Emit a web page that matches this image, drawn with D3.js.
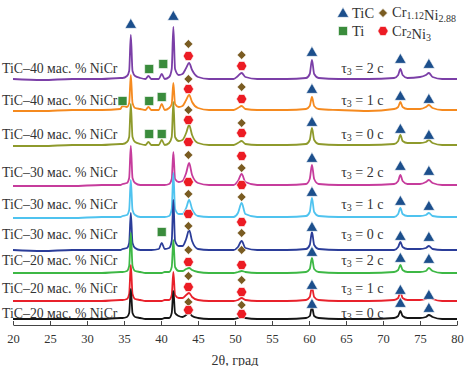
<!DOCTYPE html>
<html>
<head>
<meta charset="utf-8">
<script src="https://cdn.jsdelivr.net/npm/d3@7"></script>
<style>
body { margin: 0; background: #fff; }
svg text { font-family: "Liberation Serif", "DejaVu Serif", serif; fill: #333; }
</style>
</head>
<body>
<script>
// 2theta grid shared by every pattern (deg)
var angles = [20, 24, 28, 32, 34.5, 34.8, 35.4, 35.7, 35.92, 36.15, 36.5,
	37.2, 37.9, 38.3, 38.7, 39.7, 40.1, 40.5, 41.1, 41.45, 41.67, 41.9, 42.4,
	42.9, 43.4, 43.8, 44.2, 45.0, 46.5, 49.8, 50.4, 50.9, 51.4, 53.0, 57.0,
	59.6, 60.1, 60.4, 60.7, 61.3, 64, 68, 71.5, 72.05, 72.35, 72.65, 73.3,
	75.0, 75.8, 76.2, 76.7, 78, 80];

// intensities above each pattern's own baseline, top to bottom
var tic40_t2 = [1,0,1,1, 2,2,4,9,45,9,4, 2,1,4,1, 1,6,1, 3,11,53,11,5, 6,12,17,10,3, 1,1,4,7,3,1, 1,2,6,20,6,2, 1,1, 2,5,11,5,2, 3,5,7,3,1,1];
var tic40_t1 = [0,0,1,1, 2,5,4,8,36,8,3, 2,1,4,1, 1,7,1, 3,7,28,7,4, 5,11,16,9,3, 1,1,3,5,2,1, 1,2,5,14,5,2, 1,0, 2,4,9,4,2, 2,4,6,3,1,1];
var tic40_t0 = [0,0,1,1, 2,2,4,9,42,9,4, 2,1,4,1, 1,6,1, 3,9,44,9,5, 6,13,21,11,3, 1,1,3,5,2,1, 1,2,6,18,6,2, 1,1, 2,5,11,5,3, 3,4,6,3,1,1];
var tic30_t2 = [0,0,0,1, 1,2,3,8,40,8,3, 1,1,1,1, 1,1,1, 2,7,34,7,4, 5,13,23,11,3, 1,1,5,12,4,1, 1,2,7,21,7,2, 1,1, 2,5,11,5,2, 2,4,6,3,1,1];
var tic30_t1 = [0,0,0,1, 1,2,3,8,38,8,3, 1,1,1,1, 1,1,1, 2,9,45,9,4, 4,10,18,9,2, 1,1,5,15,4,1, 1,2,6,20,6,2, 1,1, 1,4,10,4,2, 2,3,5,2,1,1];
var tic30_t0 = [1,0,1,1, 1,2,3,8,38,8,3, 1,1,1,1, 2,8,2, 3,10,51,10,5, 5,12,21,10,2, 1,1,4,10,3,1, 1,2,6,19,6,2, 1,1, 1,4,9,4,2, 2,3,5,2,1,1];
var tic20_t2 = [0,0,0,0, 1,1,2,7,40,7,2, 1,0,0,0, 0,0,1, 1,6,33,6,2, 2,4,5,3,1, 0,0,1,2,1,0, 0,1,4,15,4,1, 0,0, 1,3,8,3,1, 1,2,5,2,0,0];
var tic20_t1 = [0,0,0,0, 1,1,2,7,36,7,2, 1,0,0,0, 0,0,1, 1,6,29,6,3, 3,6,8,4,1, 0,0,1,3,1,0, 0,1,4,14,4,1, 0,0, 1,3,9,3,1, 1,2,6,2,0,0];
var tic20_t0 = [0,0,0,0, 1,1,2,6,30,6,2, 1,0,0,0, 0,0,1, 1,6,28,6,3, 2,4,6,3,1, 0,0,1,2,1,0, 0,1,3,12,3,1, 0,0, 1,3,8,3,1, 1,2,4,2,0,0];

var offsets = [245, 214, 179, 139, 107, 74, 52, 24, 6];
var nicr = [40, 40, 40, 30, 30, 30, 20, 20, 20];
var tau = [2, 1, 0, 2, 1, 0, 2, 1, 0];

// phase marks: [phase, 2theta, level above baseline]
var mk40_t2 = [["TiC",35.92,55],["TiC",41.67,63],["Ti",38.4,11],["Ti",40.3,16],["Cr1",43.7,36],["Cr2",43.7,24],["Cr1",50.9,25],["Cr2",50.9,14],["TiC",60.4,27],["TiC",72.35,20],["TiC",76.2,15]];
var mk40_t1 = [["Ti",34.8,10],["Ti",38.4,10],["Ti",40.1,14],["Cr1",43.7,32],["Cr2",43.7,22],["Cr1",50.9,24],["Cr2",50.9,12],["TiC",60.4,21],["TiC",72.35,14],["TiC",76.2,11]];
var mk40_t0 = [["Ti",38.4,12],["Ti",40.1,12],["Cr1",43.7,36],["Cr2",43.7,26],["Cr1",50.9,23],["Cr2",50.9,13],["TiC",60.4,23],["TiC",72.35,16],["TiC",76.2,10]];
var mk30_t2 = [["Cr2",43.7,44],["Cr1",43.7,31],["Cr2",50.9,30],["Cr1",50.9,18],["TiC",60.4,27],["TiC",72.35,19],["TiC",76.2,14]];
var mk30_t1 = [["Cr2",43.7,36],["Cr1",43.7,24],["Cr2",50.9,33],["Cr1",50.9,21],["TiC",60.4,25],["TiC",72.35,16],["TiC",76.2,11]];
var mk30_t0 = [["Ti",40.1,19],["Cr2",43.7,37],["Cr1",43.7,25],["Cr2",50.9,29],["Cr1",50.9,18],["TiC",60.4,23],["TiC",72.35,14],["TiC",76.2,13]];
var mk20_t2 = [["Cr1",43.7,23],["Cr2",43.7,11],["Cr1",50.9,23],["Cr2",50.9,8],["TiC",60.4,20],["TiC",72.35,14],["TiC",76.2,13]];
var mk20_t1 = [["Cr1",43.7,25],["Cr2",43.7,14],["Cr1",50.9,21],["Cr2",50.9,9],["TiC",60.4,15],["TiC",72.35,10],["TiC",76.2,5]];
var mk20_t0 = [["Cr1",43.7,17],["Cr2",43.7,9],["Cr1",50.9,14],["Cr2",50.9,5],["TiC",60.4,14],["TiC",72.35,15],["TiC",76.2,10]];

var xTicks = [20, 25, 30, 35, 40, 45, 50, 55, 60, 65, 70, 75, 80];

var patterns = [tic40_t2, tic40_t1, tic40_t0, tic30_t2, tic30_t1, tic30_t0, tic20_t2, tic20_t1, tic20_t0];
var marks = [mk40_t2, mk40_t1, mk40_t0, mk30_t2, mk30_t1, mk30_t0, mk20_t2, mk20_t1, mk20_t0];

var colors = ["#7b3fa7", "#f58a1f", "#8e9a2c", "#c63c9c", "#4fc3ef", "#2b3d99", "#3db845", "#e8212b", "#151515"];
var labelDy = [12, 11, 12, 14, 14, 17, 13, 13, 6];

var width = 466, height = 366;
var svg = d3.select("body").append("svg")
	.attr("width", width).attr("height", height)
	.attr("font-family", "Liberation Serif, serif");

var x = d3.scaleLinear().domain([20, 80]).range([13, 457]);
var y = d3.scaleLinear().domain([0, 320]).range([325, 5]);

// axis
var axis = svg.append("g")
	.attr("transform", "translate(0," + y(0) + ")")
	.call(d3.axisBottom(x).tickValues(xTicks).tickSizeInner(-4).tickSizeOuter(0).tickPadding(9));
axis.attr("font-family", "Liberation Serif, serif");
axis.select(".domain").attr("stroke", "#444");
axis.selectAll(".tick line").attr("stroke", "#444");
axis.selectAll(".tick text")
	.style("font-size", "12.5px")
	.attr("fill", "#333");

svg.append("text")
	.attr("x", 235).attr("y", 360)
	.attr("text-anchor", "middle")
	.attr("dominant-baseline", "central")
	.style("font-size", "14px")
	.text("2θ, град");

// patterns, top one first so lower ones sit over it
patterns.forEach(function(vals, k) {
	var line = d3.line()
		.x(function(d, i) { return x(angles[i]); })
		.y(function(d) { return y(offsets[k] + d); })
		.curve(d3.curveMonotoneX);
	svg.append("path")
		.datum(vals)
		.attr("d", line)
		.attr("fill", "none")
		.attr("stroke", colors[k])
		.attr("stroke-width", 1.8)
		.attr("stroke-linejoin", "round");
});

// labels
patterns.forEach(function(vals, k) {
	var ly = y(offsets[k]) - labelDy[k];
	svg.append("text")
		.attr("x", 2).attr("y", ly)
		.attr("dominant-baseline", "central")
		.style("font-size", "13.8px")
		.text("TiC\u2013" + nicr[k] + " мас. % NiCr");
	var t = svg.append("text")
		.attr("x", x(67.2)).attr("y", ly)
		.attr("text-anchor", "middle")
		.attr("dominant-baseline", "central")
		.style("font-size", "14px");
	t.append("tspan").text("τ");
	t.append("tspan").attr("dy", 3).style("font-size", "10px").text("3");
	t.append("tspan").attr("dy", -3).text(" = " + tau[k] + " c");
});

var hexPath = d3.line()(d3.range(6).map(function(j) {
	return [5.2 * Math.cos(j * Math.PI / 3), 5.2 * Math.sin(j * Math.PI / 3)];
})) + "Z";

var markStyle = {
	TiC: { d: d3.symbol(d3.symbolTriangle, 58)(), fill: "#1c4f8c", rot: 0 },
	Ti: { d: d3.symbol(d3.symbolSquare, 81)(), fill: "#3a8c3c", rot: 0 },
	Cr1: { d: d3.symbol(d3.symbolSquare, 40)(), fill: "#7a5c22", rot: 45 },
	Cr2: { d: hexPath, fill: "#ec1c24", rot: 0 }
};

function putMark(type, cx, cy) {
	var s = markStyle[type];
	svg.append("path")
		.attr("d", s.d)
		.attr("transform", "translate(" + cx + "," + cy + ") rotate(" + s.rot + ")")
		.attr("fill", s.fill)
		.attr("stroke", "#fff")
		.attr("stroke-width", 0.6);
}

marks.forEach(function(list, k) {
	list.forEach(function(m) {
		putMark(m[0], x(m[1]), y(offsets[k] + m[2]));
	});
});

// legend
function legendText(px, py, parts) {
	var t = svg.append("text")
		.attr("x", px).attr("y", py)
		.attr("dominant-baseline", "central")
		.style("font-size", "14.5px");
	parts.forEach(function(p) {
		if (p.sub) {
			t.append("tspan").attr("dy", 3).style("font-size", "10px").text(p.s);
			t.append("tspan").attr("dy", -3).text("");
		} else {
			t.append("tspan").text(p.s);
		}
	});
}

putMark("TiC", 343, 14);
legendText(352, 13, [{ s: "TiC" }]);
putMark("Cr1", 383, 13);
legendText(392, 12, [{ s: "Cr" }, { s: "1.12", sub: true }, { s: "Ni" }, { s: "2.88", sub: true }]);
putMark("Ti", 343, 31);
legendText(352, 31, [{ s: "Ti" }]);
putMark("Cr2", 383, 31);
legendText(392, 31, [{ s: "Cr" }, { s: "2", sub: true }, { s: "Ni" }, { s: "3", sub: true }]);
</script>
</body>
</html>
